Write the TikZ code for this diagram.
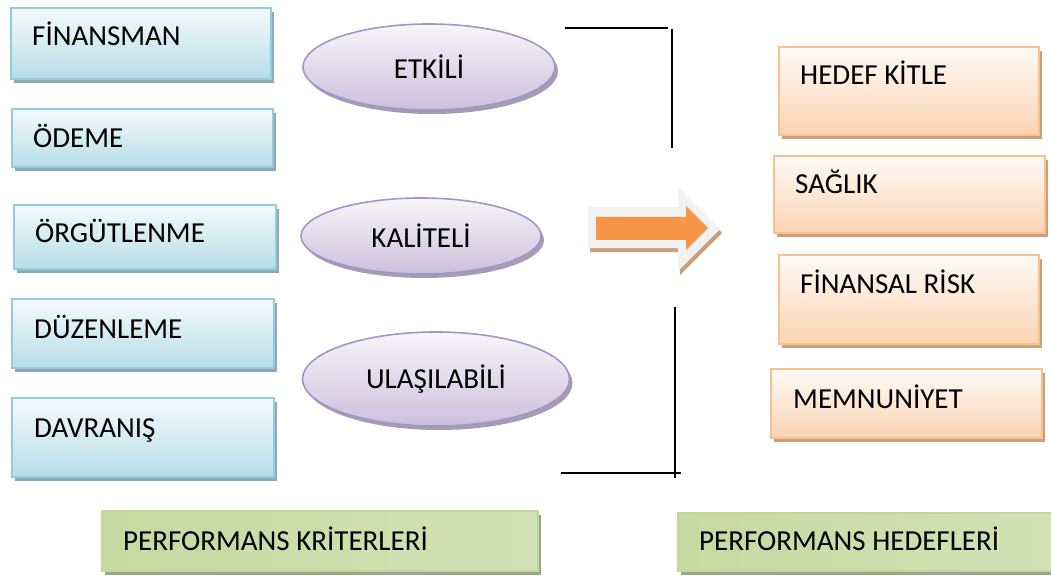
\documentclass[tikz,border=0pt]{standalone}
\usepackage{fontspec}
\setmainfont{Carlito}
\usetikzlibrary{shapes.geometric,shadows}
\definecolor{bluetop}{HTML}{F5FAFC}
\definecolor{bluebot}{HTML}{B7DDE8}
\definecolor{blueborder}{HTML}{93CDDD}
\definecolor{blueshadow}{HTML}{8DA9B4}
\definecolor{purtop}{HTML}{F7F5FA}
\definecolor{purbot}{HTML}{CBC0DC}
\definecolor{purborder}{HTML}{A594C6}
\definecolor{purshadow}{HTML}{A59CB2}
\definecolor{ortop}{HTML}{FFFAF6}
\definecolor{orbot}{HTML}{FBD4B4}
\definecolor{orborder}{HTML}{FAC090}
\definecolor{orshadow}{HTML}{C9A07E}
\definecolor{grleft}{HTML}{C6D9A0}
\definecolor{grmid}{HTML}{EBF1DE}
\definecolor{grright}{HTML}{D3E2B6}
\definecolor{grborder}{HTML}{C3D69B}
\definecolor{grshadow}{HTML}{9AA68C}
\definecolor{arrgray}{HTML}{F2F2F2}
\definecolor{arrorange}{HTML}{F79646}
\begin{document}
\begin{tikzpicture}[x=1pt,y=-1pt,
  box/.style={rectangle, line width=1.6pt, inner sep=0pt, anchor=north west},
  bluebox/.style={box, draw=blueborder, top color=bluetop, bottom color=bluebot,
    drop shadow={shadow xshift=3pt, shadow yshift=-4pt, fill=blueshadow, opacity=1}},
  orbox/.style={box, draw=orborder, top color=ortop, bottom color=orbot,
    drop shadow={shadow xshift=3pt, shadow yshift=-4pt, fill=orshadow, opacity=1}},
  grbox/.style={box, draw=grborder, left color=grleft, middle color=grmid, right color=grright,
    drop shadow={shadow xshift=3pt, shadow yshift=-4pt, fill=grshadow, opacity=1}},
  ell/.style={ellipse, line width=1.6pt, inner sep=0pt, draw=purborder, top color=purtop, bottom color=purbot,
    drop shadow={shadow xshift=3pt, shadow yshift=-4pt, fill=purshadow, opacity=1},
    font=\fontsize{29}{33}\selectfont},
  lbl/.style={anchor=base west, inner sep=0pt, font=\fontsize{29}{33}\selectfont},
  bracket/.style={line width=1.5pt, black}
]
\useasboundingbox (0,0) rectangle (1051,577);

% left blue boxes
\node[bluebox, minimum width=260pt, minimum height=71pt] (b1) at (10,7) {};
\node[bluebox, minimum width=261pt, minimum height=58pt] (b2) at (11,108) {};
\node[bluebox, minimum width=262pt, minimum height=64pt] (b3) at (13,204) {};
\node[bluebox, minimum width=262pt, minimum height=69pt] (b4) at (11,298) {};
\node[bluebox, minimum width=262pt, minimum height=79pt] (b5) at (11,397) {};
\node[lbl] (t1) at (32,46) {FİNANSMAN};
\node[lbl] (t2) at (33,148) {ÖDEME};
\node[lbl] (t3) at (35,243) {ÖRGÜTLENME};
\node[lbl] (t4) at (34,338) {DÜZENLEME};
\node[lbl] (t5) at (34,437) {DAVRANIŞ};

% ellipses
\node[ell, minimum width=252pt, minimum height=86pt] (e1) at (429,67) {ETKİLİ};
\node[ell, minimum width=240pt, minimum height=76pt] (e2) at (421,236) {KALİTELİ};
\node[ell, minimum width=267pt, minimum height=94pt] (e3) at (436,379) {ULAŞILABİLİ};

% bracket lines
\coordinate (h1a) at (565,28);
\coordinate (h1b) at (668,28);
\coordinate (v1a) at (672,29);
\coordinate (v1b) at (672,148);
\coordinate (v2a) at (675,307);
\coordinate (v2b) at (675,478);
\coordinate (h2a) at (561,473);
\coordinate (h2b) at (681,473);
\draw[bracket] (h1a) -- (h1b);
\draw[bracket] (v1a) -- (v1b);
\draw[bracket] (v2a) -- (v2b);
\draw[bracket] (h2a) -- (h2b);

% block arrow
\fill[orshadow] (590,211) -- (680,211) -- (680,191) -- (722,233) -- (680,275) -- (680,252) -- (590,252) -- cycle;
\fill[arrgray] (588,207) -- (678,207) -- (678,187) -- (720,229) -- (678,271) -- (678,248) -- (588,248) -- cycle;
\fill[arrorange] (596,217) -- (686,217) -- (686,206) -- (708,228) -- (686,250) -- (686,240) -- (596,240) -- cycle;

% right orange boxes
\node[orbox, minimum width=260pt, minimum height=88pt] (o1) at (778,46) {};
\node[orbox, minimum width=271pt, minimum height=77pt] (o2) at (773,155) {};
\node[orbox, minimum width=260pt, minimum height=89pt] (o3) at (778,254) {};
\node[orbox, minimum width=271pt, minimum height=69pt] (o4) at (770,368) {};
\node[lbl] (r1) at (800,85) {HEDEF KİTLE};
\node[lbl] (r2) at (795,194) {SAĞLIK};
\node[lbl] (r3) at (800,293) {FİNANSAL RİSK};
\node[lbl] (r4) at (793,408) {MEMNUNİYET};

% bottom green boxes
\node[grbox, minimum width=436pt, minimum height=60pt] (g1) at (101,510) {};
\node[grbox, minimum width=380pt, minimum height=58pt] (g2) at (677,512) {};
\node[lbl] (gl1) at (123,550) {PERFORMANS KRİTERLERİ};
\node[lbl] (gl2) at (699,550) {PERFORMANS HEDEFLERİ};
\end{tikzpicture}
\end{document}
